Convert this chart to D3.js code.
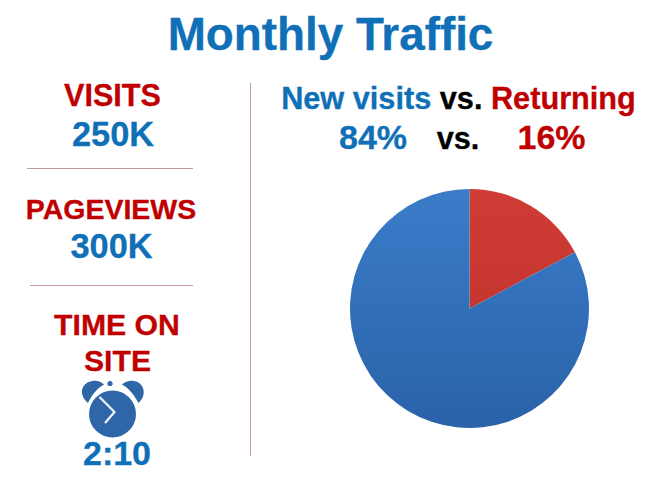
<!DOCTYPE html>
<html>
<head>
<meta charset="utf-8">
<script src="https://unpkg.com/d3@7/dist/d3.min.js"></script>
<style>
  html, body { margin: 0; padding: 0; background: #fff; }
  svg { display: block; }
  text { font-family: "Liberation Sans", Arial, sans-serif; font-weight: bold; text-anchor: middle; stroke-width: 0.3; paint-order: stroke; }
</style>
</head>
<body>
<div id="chart"></div>
<script>
// Slice sizes as drawn (the wedge is a bit wider than the 16% label says)
const sliceNames = ["Returning", "New visits"];
const sliceValues = [17.2, 82.8];

const statLabels = ["VISITS", "PAGEVIEWS"];
const statValues = ["250K", "300K"];

const blue = "#0f70b7";
const red = "#c00000";
const ruleColor = "#c4999a";

const w = 660, h = 487;

var svg = d3.select("#chart")
  .append("svg")
  .attr("width", w)
  .attr("height", h);

// Gradients for the pie slices
var defs = svg.append("defs");
function addGradient(id, top, bottom) {
  var g = defs.append("linearGradient")
    .attr("id", id)
    .attr("gradientUnits", "userSpaceOnUse")
    .attr("x1", 0).attr("x2", 0)
    .attr("y1", -120).attr("y2", 120);
  g.append("stop").attr("offset", 0).attr("stop-color", top);
  g.append("stop").attr("offset", 1).attr("stop-color", bottom);
}
addGradient("blueGrad", "#3b7cc9", "#2a62a9");
addGradient("redGrad", "#d03c36", "#bb3029");

function label(x, y, size, color, str) {
  return svg.append("text")
    .attr("x", x).attr("y", y)
    .attr("font-size", size)
    .attr("fill", color)
    .attr("stroke", color)
    .text(str);
}

// Title
label(330.5, 50, 45.8, blue, "Monthly Traffic");

// Left column
var statY = [{ label: 106, value: 146 }, { label: 219, value: 258 }];
var statX = [{ label: 112.5, value: 113 }, { label: 111, value: 111.5 }];
statLabels.forEach((s, i) => {
  label(statX[i].label, statY[i].label, i == 0 ? 30.6 : 28.5, red, s);
  label(statX[i].value, statY[i].value, 34.4, blue, statValues[i]);
});

label(117, 335, 30.2, red, "TIME ON");
label(117.5, 371, 30.2, red, "SITE");
label(117, 465, 34, blue, "2:10");

// Rules
var rules = [[27, 193, 168.5, 168.5], [30, 193, 285.5, 285.5], [250.5, 250.5, 83, 456]];
svg.selectAll("line.rule")
  .data(rules)
  .enter()
  .append("line")
  .attr("class", "rule")
  .attr("x1", d => d[0]).attr("x2", d => d[1])
  .attr("y1", d => d[2]).attr("y2", d => d[3])
  .attr("stroke", ruleColor)
  .attr("stroke-width", 1);

// Alarm clock icon
var clock = svg.append("g").attr("transform", "translate(112.5, 414)");
var iconColor = "#2f66a8";
clock.append("circle").attr("r", 23.5).attr("fill", iconColor);
clock.append("circle").attr("cx", -2.5).attr("cy", -30.5).attr("r", 2.6).attr("fill", iconColor);
clock.append("path").attr("fill", iconColor)
  .attr("d", "M-24.5,-11 C-32,-17 -33,-27 -25,-31.5 C-18,-35 -12,-33 -8.5,-29.5 C-15,-26 -20,-20 -24.5,-11 Z");
clock.append("path").attr("fill", iconColor)
  .attr("d", "M26,-11 C33,-17 33,-27 26,-31.5 C20,-35 13,-33 9.5,-29.5 C16,-26 21,-20 26,-11 Z");
clock.append("polyline")
  .attr("points", "-13,-17 2,-2 -7.5,9")
  .attr("fill", "none")
  .attr("stroke", "#eef2f8")
  .attr("stroke-width", 2.2);

// Heading over the pie
var head = svg.append("text").attr("x", 458.5).attr("y", 109).attr("font-size", 30.7);
head.append("tspan").attr("fill", blue).attr("stroke", blue).text("New visits");
head.append("tspan").attr("fill", "#000").attr("stroke", "#000").text(" vs. ");
head.append("tspan").attr("fill", red).attr("stroke", red).text("Returning");

label(373, 149, 34, blue, "84%");
label(458, 149, 30.7, "#000", "vs.");
label(551.5, 149, 34, red, "16%");

// Pie
var pie = d3.pie().sort(null);
var arc = d3.arc().innerRadius(0).outerRadius(119.5);
var sliceFills = ["url(#redGrad)", "url(#blueGrad)"];

svg.append("g")
  .attr("transform", "translate(469.5, 308.5)")
  .selectAll("path")
  .data(pie(sliceValues))
  .enter()
  .append("path")
  .attr("d", arc)
  .attr("data-name", (d, i) => sliceNames[i])
  .attr("fill", (d, i) => sliceFills[i]);
</script>
</body>
</html>
